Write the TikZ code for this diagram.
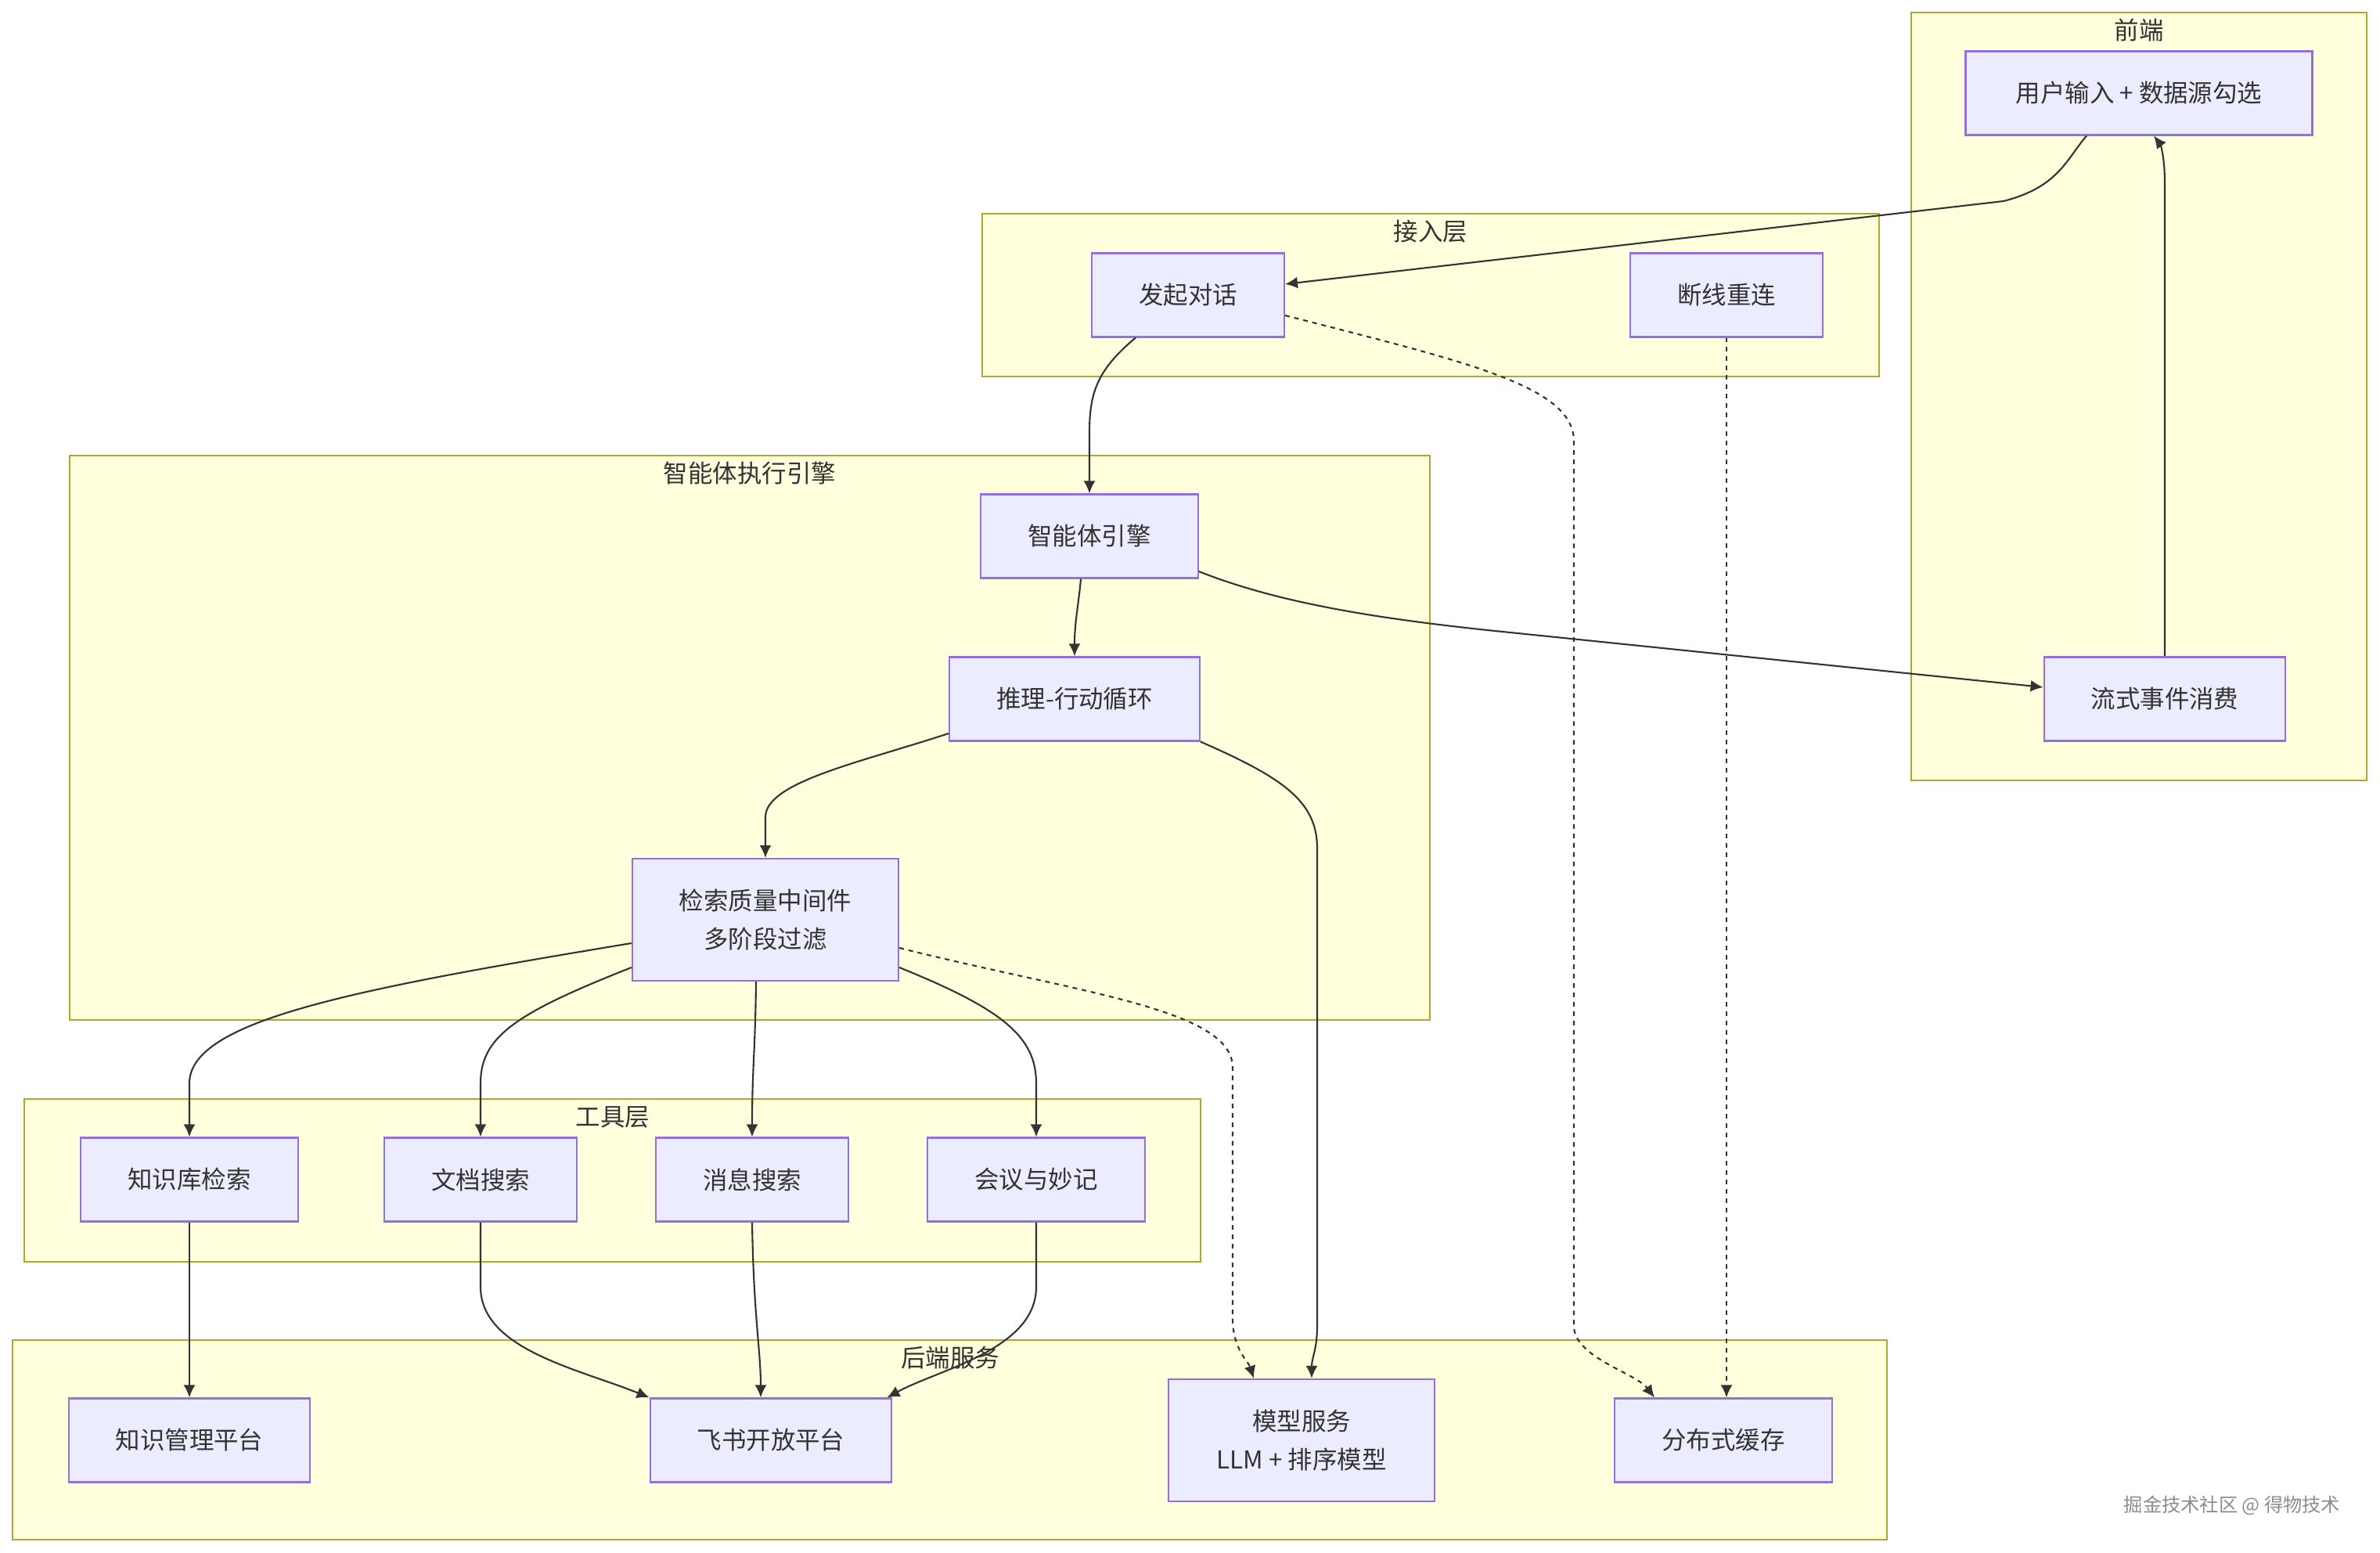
\documentclass[tikz,border=0pt]{standalone}
\usepackage{fontspec}
\setmainfont{Noto Sans CJK SC}
\usetikzlibrary{arrows.meta}
\definecolor{grpfill}{HTML}{FFFFDE}
\definecolor{grpline}{HTML}{AAAA33}
\definecolor{boxfill}{HTML}{ECECFF}
\definecolor{boxline}{HTML}{9370DB}
\definecolor{ink}{HTML}{333333}
\definecolor{mark}{HTML}{8C8C8C}
\tikzset{
    grp/.style={draw=grpline, fill=grpfill, line width=0.6pt},
    grptitle/.style={text=ink, font=\fontsize{8.95}{13.8}\selectfont},
    box/.style={draw=boxline, fill=boxfill, line width=0.6pt, text=ink, inner xsep=0.6cm, minimum height=1.07cm, align=center, font=\fontsize{8.95}{13.8}\selectfont},
    link/.style={draw=ink, line width=0.6pt, ->, >={Latex[length=0.16cm,width=0.15cm]}},
    dotlink/.style={link, dash pattern=on 1.7pt off 1.7pt}
}
\begin{document}
\begin{tikzpicture}
        \useasboundingbox (0,0) rectangle (30.41,19.84);

        \draw[grp] (24.42,9.87) rectangle (30.24,19.68);
        \draw[grp] (12.55,15.03) rectangle (24.01,17.11);
        \draw[grp] (0.89,6.81) rectangle (18.27,14.02);
        \draw[grp] (0.31,3.72) rectangle (15.34,5.80);
        \draw[grp] (0.16,0.17) rectangle (24.11,2.72);

        \node[grptitle] (tfront) at (27.33,19.45) {前端};
        \node[grptitle] (taccess) at (18.28,16.88) {接入层};
        \node[grptitle] (tengine) at (9.58,13.79) {智能体执行引擎};
        \node[grptitle] (ttools) at (7.83,5.57) {工具层};
        \node[grptitle] (tback) at (12.14,2.49) {后端服务};

        \node[box, minimum width=4.43cm] (user) at (27.33,18.65) {用户输入 + 数据源勾选};
        \node[box] (stream) at (27.66,10.91) {流式事件消费};

        \node[box] (start) at (15.18,16.07) {发起对话};
        \node[box] (reconn) at (22.06,16.07) {断线重连};

        \node[box] (engine) at (13.92,12.99) {智能体引擎};
        \node[box] (react) at (13.73,10.91) {推理-行动循环};
        \node[box, minimum height=1.56cm] (filter) at (9.78,8.09) {检索质量中间件\\多阶段过滤};

        \node[box] (kb) at (2.42,4.77) {知识库检索};
        \node[box] (doc) at (6.14,4.77) {文档搜索};
        \node[box] (msg) at (9.61,4.77) {消息搜索};
        \node[box] (meet) at (13.24,4.77) {会议与妙记};

        \node[box] (kmp) at (2.42,1.44) {知识管理平台};
        \node[box] (feishu) at (9.85,1.44) {飞书开放平台};
        \node[box, minimum width=3.4cm, minimum height=1.56cm] (model) at (16.63,1.44) {模型服务\\LLM + 排序模型};
        \node[box] (cache) at (22.02,1.44) {分布式缓存};

        \node[text=mark, font=\fontsize{6.9}{8}\selectfont] (wm) at (28.52,0.61) {掘金技术社区 @ 得物技术};

        \draw[link] ([xshift=-0.67cm]user.south) .. controls (26.4,17.8) and (26.3,17.45) .. (25.6,17.27) -- ([yshift=0.14cm]start.east);
        \draw[link] (stream.north) -- (27.66,17.5) .. controls (27.66,17.85) and (27.6,18.0) .. ([xshift=0.19cm]user.south);
        \draw[link] ([xshift=-0.67cm]start.south) .. controls (14.0,15.1) and (13.92,14.8) .. (13.92,14.3) -- (engine.north);
        \draw[dotlink] ([yshift=-0.26cm]start.east) .. controls (18.8,15.2) and (20.11,14.9) .. (20.11,14.2) -- (20.11,2.9) .. controls (20.11,2.5) and (20.9,2.3) .. ([xshift=-0.88cm]cache.north);
        \draw[dotlink] (reconn.south) -- (reconn.south |- cache.north);

        \draw[link] ([xshift=-0.11cm]engine.south) .. controls (13.78,12.1) and (13.73,11.9) .. (react.north);
        \draw[link] ([yshift=-0.45cm]engine.east) .. controls (16.3,12.15) and (17.5,11.95) .. (19.0,11.79) -- ([yshift=0.15cm]stream.west);
        \draw[link] ([yshift=-0.44cm]react.west) .. controls (11.0,10.1) and (9.78,9.85) .. (9.78,9.4) -- (filter.north);
        \draw[link] (react.south east) .. controls (16.4,9.9) and (16.83,9.6) .. (16.83,9.0) -- (16.83,2.9) .. controls (16.83,2.6) and (16.76,2.5) .. ([xshift=0.13cm]model.north);
        \draw[dotlink] ([yshift=-0.36cm]filter.east) .. controls (13.8,7.15) and (15.75,6.95) .. (15.75,6.2) -- (15.75,3.0) .. controls (15.75,2.6) and (15.95,2.45) .. ([xshift=-0.61cm]model.north);

        \draw[link] ([yshift=-0.3cm]filter.west) .. controls (4.5,7.2) and (2.42,6.8) .. (2.42,6.0) -- (kb.north);
        \draw[link] ([yshift=-0.61cm]filter.west) .. controls (6.6,6.9) and (6.14,6.6) .. (6.14,6.0) -- (doc.north);
        \draw[link] ([xshift=-0.12cm]filter.south) .. controls (9.65,6.4) and (9.61,6.2) .. (msg.north);
        \draw[link] ([yshift=-0.61cm]filter.east) .. controls (12.8,6.95) and (13.24,6.6) .. (13.24,6.0) -- (meet.north);

        \draw[link] (kb.south) -- (kmp.north);
        \draw[link] (doc.south) -- (6.14,3.4) .. controls (6.14,2.6) and (7.4,2.35) .. (feishu.north west);
        \draw[link] (msg.south) .. controls (9.63,3.0) and (9.72,2.6) .. ([xshift=-0.13cm]feishu.north);
        \draw[link] (meet.south) -- (13.24,3.4) .. controls (13.24,2.6) and (12.0,2.35) .. ([xshift=-0.07cm]feishu.north east);
\end{tikzpicture}
\end{document}
